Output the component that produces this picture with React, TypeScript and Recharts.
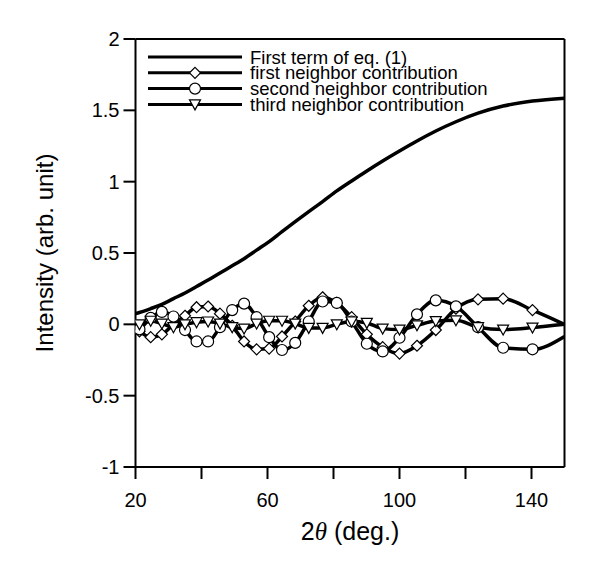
import React from 'react'
import { LineChart, Line, XAxis, YAxis, ReferenceLine } from 'recharts'

// 2θ positions of the computed points (deg.)
const twoTheta = [20, 21.2, 24.6, 28.0, 31.5, 35.0, 38.5, 42.0, 45.6, 49.3, 52.9, 56.7, 60.5, 64.4, 68.4, 72.5, 76.7, 81.0, 85.5, 90.1, 94.9, 100.0, 105.3, 111.0, 117.1, 123.8, 131.4, 140.3, 150]

const firstTerm = [0.075, 0.083, 0.11, 0.14, 0.18, 0.22, 0.265, 0.31, 0.36, 0.41, 0.46, 0.52, 0.58, 0.65, 0.72, 0.79, 0.86, 0.935, 1.005, 1.075, 1.145, 1.215, 1.285, 1.355, 1.42, 1.48, 1.53, 1.565, 1.585]
const firstNeighbor = [-0.03, -0.05, -0.09, -0.07, 0.0, 0.06, 0.12, 0.125, 0.075, -0.01, -0.12, -0.175, -0.17, -0.085, 0.02, 0.13, 0.19, 0.15, 0.05, -0.07, -0.16, -0.205, -0.15, -0.04, 0.11, 0.175, 0.18, 0.1, 0.0]
const secondNeighbor = [-0.05, -0.035, 0.045, 0.087, 0.055, -0.04, -0.12, -0.12, -0.02, 0.1, 0.145, 0.05, -0.09, -0.18, -0.13, 0.02, 0.16, 0.15, 0.02, -0.136, -0.19, -0.094, 0.07, 0.168, 0.126, -0.02, -0.164, -0.175, -0.085]
const thirdNeighbor = [0.0, 0.0, 0.025, 0.005, -0.02, 0.0, 0.015, 0.02, 0.005, -0.02, -0.03, 0.005, 0.025, 0.025, 0.005, -0.025, -0.025, 0.0, 0.02, 0.01, -0.03, -0.037, -0.007, 0.023, 0.028, -0.02, -0.037, -0.023, 0.0]

const xTicks = [20, 40, 60, 80, 100, 120, 140]
const xLabels = [20, 60, 100, 140]
const yTicks = [-1, -0.5, 0, 0.5, 1, 1.5, 2]

const legendNames = ['First term of eq. (1)', 'first neighbor contribution', 'second neighbor contribution', 'third neighbor contribution']

const rows = twoTheta.map((x, i) => ({
  x,
  main: firstTerm[i],
  n1: firstNeighbor[i],
  n2: secondNeighbor[i],
  n3: thirdNeighbor[i],
}))

const FONT = '"Liberation Sans", Arial, sans-serif'

function Marker({ kind, cx, cy }: { kind: string; cx: number; cy: number }) {
  const st = { fill: '#fff', stroke: '#000', strokeWidth: 1.2 }
  if (kind === 'diamond') {
    const r = 5.5
    return <polygon points={`${cx},${cy - r} ${cx + r},${cy} ${cx},${cy + r} ${cx - r},${cy}`} {...st} />
  }
  if (kind === 'circle') return <circle cx={cx} cy={cy} r={5.5} {...st} />
  if (kind === 'triangle') {
    const w = 5.5
    return <polygon points={`${cx - w},${cy - 4.5} ${cx + w},${cy - 4.5} ${cx},${cy + 5.5}`} {...st} />
  }
  return null
}

const makeDot = (kind: string) => (p: any) => {
  const last = rows.length - 1
  if (p.index === 0 || p.index === last || p.cx == null || p.cy == null) return <g key={kind + p.index} />
  return (
    <g key={kind + p.index}>
      <Marker kind={kind} cx={p.cx} cy={p.cy} />
    </g>
  )
}

const XTitle = ({ viewBox }: any) => {
  const cx = viewBox ? viewBox.x + viewBox.width / 2 : 350
  return (
    <text x={cx} y={540} textAnchor="middle" fontFamily={FONT} fontSize={25} fill="#000">
      <tspan>2</tspan>
      <tspan fontFamily='"Liberation Serif", serif' fontStyle="italic">θ</tspan>
      <tspan> (deg.)</tspan>
    </text>
  )
}

const YTitle = ({ viewBox }: any) => {
  const cy = viewBox ? viewBox.y + viewBox.height / 2 : 252
  return (
    <text x={45} y={cy} transform={`rotate(-90, 45, ${cy})`} textAnchor="middle" dy="0.35em" fontFamily={FONT} fontSize={24} fill="#000">
      Intensity (arb. unit)
    </text>
  )
}

function LegendBox() {
  const kinds = ['none', 'diamond', 'circle', 'triangle']
  const y0 = 57
  const step = 15.8
  return (
    <svg width={593} height={567} style={{ position: 'absolute', left: 0, top: 0, pointerEvents: 'none' }}>
      {legendNames.map((name, i) => {
        const y = y0 + i * step
        return (
          <g key={name}>
            <line x1={148} x2={242} y1={y} y2={y} stroke="#000" strokeWidth={3} />
            <Marker kind={kinds[i]} cx={195} cy={y} />
            <text x={250} y={y} dy="0.36em" fontFamily={FONT} fontSize={18.5} fill="#000">
              {name}
            </text>
          </g>
        )
      })}
    </svg>
  )
}

export default function App() {
  return (
    <div style={{ position: 'absolute', left: 0, top: 0, width: 593, height: 567, background: '#fff' }}>
      <LineChart width={593} height={567} data={rows} margin={{ top: 39, right: 28.5, left: 0, bottom: 0 }}>
        <XAxis
          dataKey="x"
          type="number"
          domain={[20, 150]}
          ticks={xTicks}
          interval={0}
          allowDataOverflow
          height={100}
          tickSize={12}
          tickMargin={14}
          axisLine={{ stroke: '#000', strokeWidth: 2 }}
          tickLine={{ stroke: '#000', strokeWidth: 2 }}
          tick={{ fill: '#000', fontSize: 20, fontFamily: FONT }}
          tickFormatter={(v: number) => (xLabels.includes(v) ? String(v) : '')}
          label={<XTitle />}
        />
        <YAxis
          type="number"
          domain={[-1, 2]}
          ticks={yTicks}
          interval={0}
          allowDataOverflow
          width={135.5}
          tickSize={12}
          tickMargin={4}
          axisLine={{ stroke: '#000', strokeWidth: 2 }}
          tickLine={{ stroke: '#000', strokeWidth: 2 }}
          tick={{ fill: '#000', fontSize: 20, fontFamily: FONT }}
          label={<YTitle />}
        />
        <ReferenceLine y={2} stroke="#000" strokeWidth={2} />
        <ReferenceLine x={150} stroke="#000" strokeWidth={2} />
        <Line dataKey="main" type="monotone" stroke="#000" strokeWidth={3.5} dot={false} activeDot={false} isAnimationActive={false} />
        <Line dataKey="n1" type="monotone" stroke="#000" strokeWidth={3.5} dot={makeDot('diamond')} activeDot={false} isAnimationActive={false} />
        <Line dataKey="n2" type="monotone" stroke="#000" strokeWidth={3.5} dot={makeDot('circle')} activeDot={false} isAnimationActive={false} />
        <Line dataKey="n3" type="monotone" stroke="#000" strokeWidth={3.5} dot={makeDot('triangle')} activeDot={false} isAnimationActive={false} />
      </LineChart>
      <LegendBox />
    </div>
  )
}
